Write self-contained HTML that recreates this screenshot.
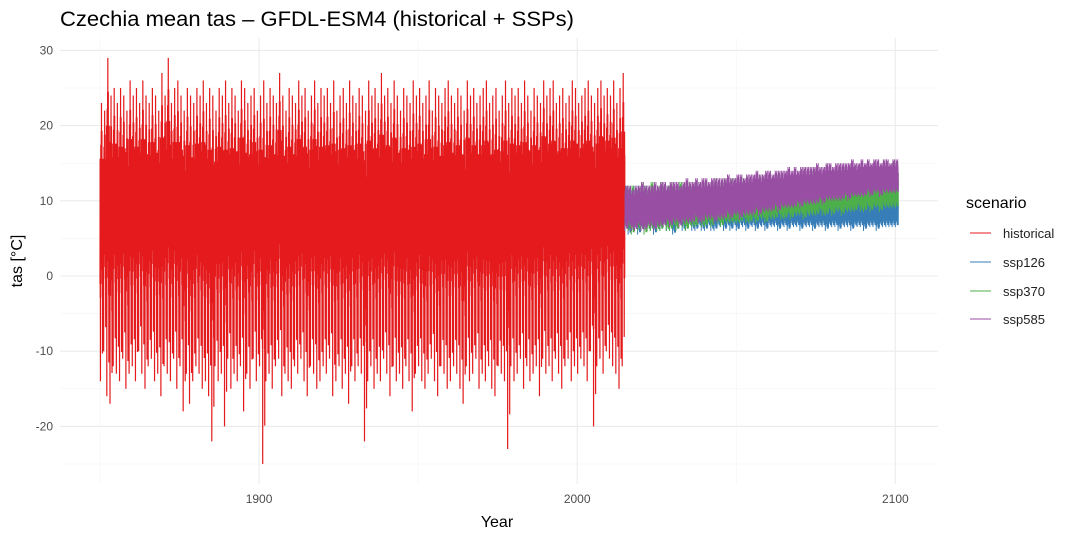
<!DOCTYPE html>
<html><head><meta charset="utf-8"><style>
body{margin:0;background:#fff;}
svg{display:block;font-family:"Liberation Sans",sans-serif;}
</style></head><body>
<svg id="chart" width="1080" height="540">
<rect width="1080" height="540" fill="#fff"/>
<text x="60" y="26" font-size="21" textLength="514" lengthAdjust="spacingAndGlyphs" fill="#000">Czechia mean tas – GFDL-ESM4 (historical + SSPs)</text>
<g id="grid"></g>
<g id="series"></g>
<g id="axes"></g>
<text x="497" y="527" font-size="16" text-anchor="middle">Year</text>
<text transform="translate(22,261) rotate(-90)" font-size="16" text-anchor="middle">tas [°C]</text>
<g>
<text x="966" y="208" font-size="16">scenario</text>
<g><line x1="970" x2="991" y1="233" y2="233" stroke="#E41A1C"/><text x="1003" y="238" font-size="13" fill="#222">historical</text></g>
<g><line x1="970" x2="991" y1="262" y2="262" stroke="#377EB8"/><text x="1003" y="267" font-size="13" fill="#222">ssp126</text></g>
<g><line x1="970" x2="991" y1="291" y2="291" stroke="#4DAF4A"/><text x="1003" y="296" font-size="13" fill="#222">ssp370</text></g>
<g><line x1="970" x2="991" y1="319" y2="319" stroke="#984EA3"/><text x="1003" y="324" font-size="13" fill="#222">ssp585</text></g>
</g>
</svg>
<script>
const histStart = 1850;
const histMax = [23,22,29,24,25,23,25,24,22,26, 24,25,23,26,24,23,25,24,22,27, 24,29,23,25,26,24,22,25,24,23, 25,24,26,23,25,24,22,25,24,26, 23,25,24,22,26,25,23,24,25,22, 24,26,23,25,24,23,27,24,22,25, 24,23,26,24,25,22,24,26,23,25, 24,25,23,26,22,24,25,23,26,24, 23,25,24,22,26,24,25,23,27,24, 25,23,26,24,22,25,24,23,26,24, 25,23,24,26,22,25,24,23,25,26, 24,23,25,24,22,26,24,25,23,24, 25,26,23,24,25,22,24,26,23,25, 24,25,23,26,24,22,25,24,23,26, 24,25,26,23,24,25,23,24,26,25, 23,24,25,26,24,23,25,26,24,25, 24,26,23,25,27];
const histMin = [-14,-10,-16,-17,-12,-13,-14,-11,-15,-13, -12,-14,-10,-13,-15,-12,-11,-14,-13,-16, -12,-13,-14,-11,-15,-12,-18,-13,-17,-14, -12,-13,-15,-14,-16,-22,-12,-14,-13,-20, -11,-15,-13,-14,-12,-18,-13,-15,-11,-14, -12,-25,-14,-13,-15,-12,-11,-16,-13,-14, -15,-12,-13,-11,-14,-16,-12,-13,-15,-14, -12,-13,-11,-16,-14,-12,-15,-13,-17,-12, -14,-12,-13,-22,-14,-12,-15,-13,-14,-11, -13,-16,-12,-14,-13,-15,-12,-14,-18,-13, -12,-14,-15,-13,-11,-14,-16,-12,-13,-15, -14,-12,-13,-15,-17,-12,-14,-13,-11,-15, -13,-14,-12,-15,-16,-12,-13,-14,-23,-12, -14,-13,-11,-15,-12,-14,-13,-12,-16,-11, -13,-12,-14,-11,-13,-15,-12,-11,-14,-12, -13,-11,-12,-14,-10,-20,-12,-11,-13,-10, -11,-12,-13,-15,-12];
const futStart = 2015;
const ssp126Max = [12,11,12,11,12,11,12,11,12,12, 11,12,11,12,12,11,12,11,12,12, 11,12,12,11,12,12,11,12,12,11, 12,12,11,12,12,11,12,12,12,11, 12,12,11,12,12,12,11,12,12,11, 12,12,12,11,12,12,11,12,12,12, 11,12,12,12,11,12,12,12,11,12, 12,12,11,12,12,12,11,12,12,12, 11,12,12,12,12,12];
const ssp126Min = [6,5.5,6,6,5.5,6,6,6.5,6,5.5, 6,6,6.5,6,6,5.5,6,6.5,6,6, 6.5,6,6,6.5,6,6,6.5,6,6,6.5, 6.5,6,6.5,6,6.5,6,6.5,6.5,6,6.5, 6.5,6,6.5,6.5,6,6.5,6.5,6.5,6,6.5, 6.5,6,6.5,6.5,6.5,6,6.5,6.5,6.5,6, 6.5,6.5,6.5,6,6.5,6.5,6.5,6,6.5,6.5, 6.5,6,6.5,6.5,6.5,6,6.5,6.5,6.5,6, 6.5,6.5,6.5,6.5,6.5,6.5];
const ssp370Max = [12,12,12,11.5,12,12.5,12,12,12.5,12, 12,12.5,12,12,12.5,12.5,12,12.5,12.5,12, 12.5,12.5,12,12.5,12.5,12.5,12,12.5,13,12.5, 12.5,13,12.5,13,13,12.5,13,13,13,12.5, 13,13,13.5,13,13,13.5,13,13.5,13.5,13, 13.5,13.5,13.5,13,13.5,14,13.5,13.5,14,13.5, 14,13.5,14,14,13.5,14,14,14,14.5,14, 14,14.5,14,14.5,14.5,14,14.5,14.5,14.5,14, 14.5,15,14.5,14.5,15,15];
const ssp370Min = [6,6,5.5,6,6,6,5.5,6,6,6, 6,6,6.5,6,6,6.5,6,6.5,6.5,6, 6.5,6.5,6.5,7,6.5,6.5,7,6.5,7,7, 6.5,7,7,7,7,7,7,7.5,7,7, 7.5,7,7.5,7.5,7,7.5,7.5,7.5,8,7.5, 7.5,8,7.5,8,8,8,7.5,8,8,8, 8,8.5,8,8,8.5,8,8.5,8.5,8,8.5, 8.5,8.5,8.5,9,8.5,8.5,9,8.5,9,9, 8.5,9,9,9,9,9];
const ssp585Max = [12,12,11.5,12,12,12.5,12,12,12,12.5, 12,12.5,12.5,12,12.5,12.5,12.5,12,12.5,13, 12.5,12.5,13,12.5,13,13,12.5,13,13,13, 13,13,13.5,13,13,13.5,13.5,13,13.5,13.5, 13.5,14,13.5,13.5,14,14,13.5,14,14,14, 14,14.5,14,14.5,14,14.5,14.5,14.5,14.5,14.5, 15,14.5,14.5,15,15,14.5,15,15,15,15, 15,15.5,15,15,15.5,15,15.5,15,15.5,15.5, 15,15.5,15.5,15,15.5,15.5];
const ssp585Min = [6,6.5,6,6,6.5,6,6,6.5,6.5,6, 6.5,6.5,6.5,7,6.5,7,7,6.5,7,7, 7,7,7.5,7,7,7.5,7.5,7.5,7,7.5, 7.5,7.5,8,7.5,8,8,7.5,8,8,8, 8,8.5,8,8.5,8.5,8.5,8.5,9,8.5,9, 9,9,9,9,9.5,9,9.5,9.5,9.5,9.5, 9.5,10,9.5,10,10,10,10,10,10,10.5, 10,10.5,10.5,10.5,10.5,10.5,11,10.5,11,11, 10.5,11,11,11,11,11];
const xTicks = [1900, 2000, 2100];
const yTicks = [-20, -10, 0, 10, 20, 30];

const NS = "http://www.w3.org/2000/svg";
const X = y => 100 + (y - 1850) * 3.1813;
const Y = v => 276 - v * 7.52;
const L = 60, R = 938, T = 38, B = 484;
const grid = document.getElementById('grid'), axes = document.getElementById('axes'), series = document.getElementById('series');
function mk(tag, attrs, parent){const e=document.createElementNS(NS,tag);for(const k in attrs)e.setAttribute(k,attrs[k]);parent.appendChild(e);return e;}
for (let v = -25; v <= 30; v += 5) {
  const major = v % 10 === 0;
  const ln = mk('line', {x1:L,x2:R,y1:Y(v),y2:Y(v),stroke:major?'#ebebeb':'#f4f4f4','stroke-width':major?1.1:0.6}, grid);
  
  
}
for (let yr = 1850; yr <= 2100; yr += 50) {
  const major = yr % 100 === 0;
  const ln = mk('line', {x1:X(yr),x2:X(yr),y1:T,y2:B,stroke:major?'#ebebeb':'#f4f4f4','stroke-width':major?1.1:0.6}, grid);
  
  
}
yTicks.forEach(v => {
  const t = mk('text', {x:53,y:Y(v)+4,'font-size':12,'text-anchor':'end',fill:'#4d4d4d'}, axes);
  t.textContent = v;
  
  
});
xTicks.forEach(v => {
  const t = mk('text', {x:X(v),y:503,'font-size':12,'text-anchor':'middle',fill:'#4d4d4d'}, axes);
  t.textContent = v;
  
  
});
// intra-year rendering pattern (fraction of yearly range)
const histShape = [0.35,0.8,0.3,0.75,0.0,0.7,0.4,0.85,0.35,0.8,0.45,0.9,0.4,1.0,0.45,0.85,0.5,0.9,0.4,0.8,0.3,0.75,0.1,0.7,0.35,0.8,0.3,0.72];
const futShape = [0.0,0.8,0.1,0.9,0.2,1.0,0.15,0.85,0.3,0.95,0.1,0.7,0.05,0.9,0.25,1.0,0.2,0.8,0.05,0.6];
function drawSeries(start, mx, mn, color, name, w, shape) {
  let d = '';
  const n = shape.length;
  for (let i = 0; i < mx.length; i++) {
    for (let m = 0; m < n; m++) {
      const v = mn[i] + (mx[i] - mn[i]) * shape[m];
      const x = X(start + i + m / n), y = Y(v);
      d += (d ? 'L' : 'M') + x.toFixed(2) + ' ' + y.toFixed(1);
    }
  }
  const p = mk('path', {d:d, fill:'none', stroke:color, 'stroke-width':w}, series);
  
  
}
drawSeries(histStart, histMax, histMin, '#E41A1C', 'series-historical', 1.2, histShape);
drawSeries(futStart, ssp126Max, ssp126Min, '#377EB8', 'series-ssp126', 1.0, futShape);
drawSeries(futStart, ssp370Max, ssp370Min, '#4DAF4A', 'series-ssp370', 1.0, futShape);
drawSeries(futStart, ssp585Max, ssp585Min, '#984EA3', 'series-ssp585', 1.0, futShape);
</script>
</body></html>
